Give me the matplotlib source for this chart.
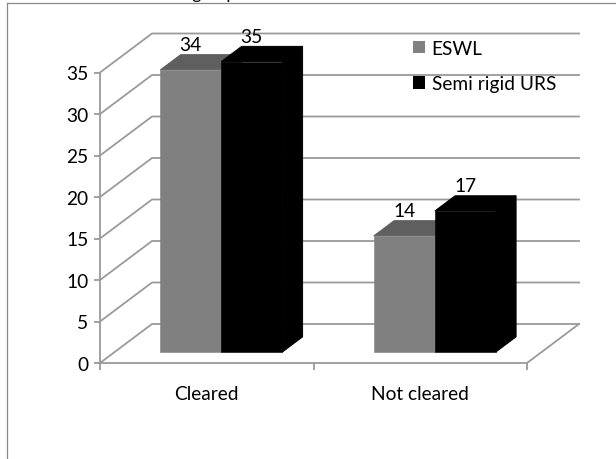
import matplotlib
matplotlib.use("Agg")
import matplotlib.pyplot as plt
from matplotlib.patches import Polygon, Patch
from matplotlib.lines import Line2D

# ---- data ----
categories = ["Cleared", "Not cleared"]
series_names = ["ESWL", "Semi rigid URS"]
eswl = [34, 14]
semi_rigid_urs = [35, 17]
y_ticks = [0, 5, 10, 15, 20, 25, 30, 35]
title_text = "Stone clearance according to procedure"

# ---- style ----
front_colors = ["#808080", "#000000"]
top_colors = ["#5f5f5f", "#000000"]
side_colors = ["#5a5a5a", "#000000"]
grid_color = "#9a9a9a"
FONT = ["Lato", "DejaVu Sans"]
FS = 13.75
plt.rcParams["font.family"] = FONT

W, H = 616, 460
fig = plt.figure(figsize=(W / 100, H / 100), dpi=100)

# front plane of the plot in pixels
px_left, px_right, px_bottom, px_top = 100, 527, 364, 73.5
ax = fig.add_axes([px_left / W, 1 - px_bottom / H,
                   (px_right - px_left) / W, (px_bottom - px_top) / H])
ncat = len(categories)
ymax = max(y_ticks)
ax.set_xlim(0, ncat)
ax.set_ylim(0, ymax)
ax.patch.set_visible(False)

ppx = (px_right - px_left) / ncat      # pixels per x-unit
ppy = (px_bottom - px_top) / ymax      # pixels per y-unit
ddx = 52 / ppx                          # depth offset in data units
ddy = 39 / ppy


def P(x, y, z):
    return (x + z * ddx, y + z * ddy)


# walls / gridlines
for v in y_ticks:
    a, b = P(0, v, 0), P(0, v, 1)
    c = P(ncat, v, 1)
    ax.add_line(Line2D([a[0], b[0], c[0]], [a[1], b[1], c[1]], color=grid_color,
                       lw=1.3, clip_on=False, zorder=1))
a, b = P(ncat, 0, 0), P(ncat, 0, 1)
ax.add_line(Line2D([a[0], b[0]], [a[1], b[1]], color=grid_color, lw=1.3,
                   clip_on=False, zorder=1))

# bars
bar_w = 61 / ppx
z0, z1 = 0.28, 0.67
all_series = [eswl, semi_rigid_urs]
for i in range(ncat):
    center = i + 0.5
    for j, vals in enumerate(all_series):
        v = vals[i]
        x0 = center - bar_w + j * bar_w
        x1 = x0 + bar_w
        front = [P(x0, 0, z0), P(x1, 0, z0), P(x1, v, z0), P(x0, v, z0)]
        top = [P(x0, v, z0), P(x1, v, z0), P(x1, v, z1), P(x0, v, z1)]
        side = [P(x1, 0, z0), P(x1, v, z0), P(x1, v, z1), P(x1, 0, z1)]
        zo = 3 + j
        ax.add_patch(Polygon(side, closed=True, fc=side_colors[j],
                             ec=side_colors[j], lw=0.7, clip_on=False, zorder=zo))
        ax.add_patch(Polygon(top, closed=True, fc=top_colors[j],
                             ec=top_colors[j], lw=0.7, clip_on=False, zorder=zo))
        ax.add_patch(Polygon(front, closed=True, fc=front_colors[j],
                             ec=front_colors[j], lw=0.4, clip_on=False, zorder=zo))
        lx = (x0 + x1) / 2 + z0 * ddx
        ly = v + z1 * ddy + 10 / ppy
        ax.text(lx, ly, str(v), ha="center", va="center", fontsize=FS,
                color="black", zorder=10, clip_on=False)

# axes spines / ticks
for s in ["top", "right"]:
    ax.spines[s].set_visible(False)
for s in ["left", "bottom"]:
    ax.spines[s].set_color(grid_color)
    ax.spines[s].set_linewidth(1.3)
    ax.spines[s].set_zorder(2)
ax.set_yticks(y_ticks)
ax.set_yticklabels([str(t) for t in y_ticks])
ax.tick_params(axis="y", length=4.3, width=1.3, color=grid_color, pad=4,
               labelsize=FS)
ax.set_xticks([i + 0.5 for i in range(ncat)])
ax.set_xticklabels(categories)
ax.tick_params(axis="x", length=0, pad=16, labelsize=FS)
ax.set_xticks(list(range(ncat + 1)), minor=True)
ax.tick_params(axis="x", which="minor", length=5, width=1.3, color=grid_color)

# legend
handles = [Patch(fc=front_colors[k], ec="none") for k in range(len(series_names))]
fig.legend(handles, series_names, loc="upper left",
           bbox_to_anchor=(413 / W, 1 - 41 / H), frameon=False,
           fontsize=FS, handlelength=0.62, handleheight=0.62,
           handletextpad=0.35, labelspacing=0.95, borderpad=0, borderaxespad=0)

# outer frame
fig.add_artist(Line2D([7 / W, 7 / W], [0, 1 - 4 / H], color="#8a8a8a", lw=0.9,
                      transform=fig.transFigure))
fig.add_artist(Line2D([7 / W, 1], [1 - 4 / H, 1 - 4 / H], color="#8a8a8a",
                      lw=0.9, transform=fig.transFigure))

# caption above the chart, cut off by the top edge as in the reference
fig.text(1 / W, 1 + 1.5 / H, title_text, ha="left", va="baseline",
         fontsize=12.5, color="black")

fig.savefig("out.png", dpi=100)
